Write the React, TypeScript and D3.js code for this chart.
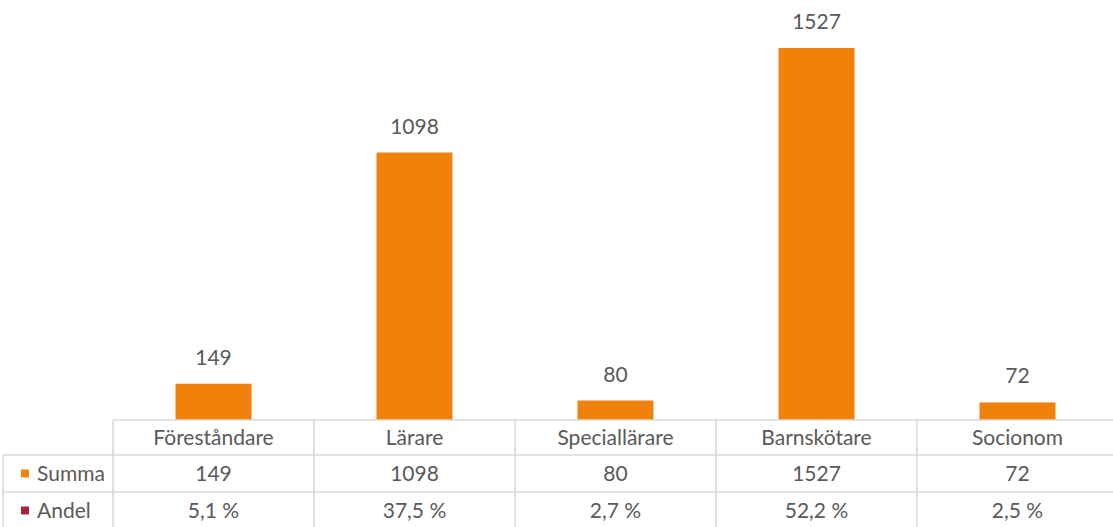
import * as d3 from 'd3';

// ── Data ────────────────────────────────────────────────────────────────────
const categories = ['Föreståndare', 'Lärare', 'Speciallärare', 'Barnskötare', 'Socionom'];
const summa = [149, 1098, 80, 1527, 72];
const andel = ['5,1 %', '37,5 %', '2,7 %', '52,2 %', '2,5 %'];
const rowNames = ['Summa', 'Andel'];

const W = 1113;
const H = 527;
const TEXT = '#595959';
const GRID = '#d9d9d9';
const ORANGE = '#f0820c';
const RED = '#a3263a';
const FONT = 'Lato, "Open Sans", sans-serif';
const FS = 21;

export default function App() {
  // plot / table geometry
  const left = 113;
  const right = 1118;
  const base = 420;
  const rows = [420, 455, 492, 529];
  const tableLeft = 3;

  const x = d3.scaleBand<string>()
    .domain(categories)
    .range([left, right])
    .paddingInner(0.622)
    .paddingOuter(0.311);

  const cols = d3.scaleBand<string>().domain(categories).range([left, right]);

  const y = d3.scaleLinear().domain([0, 1527]).range([base, 48]);

  const keyColors = [ORANGE, RED];
  const rowVals: (string | number)[][] = [summa, andel];

  return (
    <div style={{ position: 'absolute', left: 0, top: 0 }}>
      <svg width={W} height={H} style={{ display: 'block', fontFamily: FONT }}>
        <rect width={W} height={H} fill="#fff" />

        {/* bars */}
        {categories.map((c, i) => (
          <g key={c}>
            <rect
              x={x(c)}
              y={y(summa[i])}
              width={x.bandwidth()}
              height={base - y(summa[i])}
              fill={ORANGE}
            />
            <text
              x={x(c)! + x.bandwidth() / 2}
              y={y(summa[i]) - 19}
              textAnchor="middle"
              fontSize={FS}
              fill={TEXT}
            >
              {summa[i]}
            </text>
          </g>
        ))}

        {/* data table grid */}
        <g stroke={GRID} strokeWidth={1.6}>
          <line x1={left} x2={W} y1={rows[0]} y2={rows[0]} />
          {rows.slice(1).map(r => (
            <line key={r} x1={tableLeft} x2={W} y1={r} y2={r} />
          ))}
          <line x1={tableLeft} x2={tableLeft} y1={rows[1]} y2={rows[3]} />
          {categories.map(c => (
            <line key={c} x1={cols(c)} x2={cols(c)} y1={rows[0]} y2={rows[3]} />
          ))}
          <line x1={right} x2={right} y1={rows[0]} y2={rows[3]} />
        </g>

        {/* header row */}
        {categories.map(c => (
          <text
            key={c}
            x={cols(c)! + cols.bandwidth() / 2}
            y={(rows[0] + rows[1]) / 2 + 7.5}
            textAnchor="middle"
            fontSize={FS}
            fill={TEXT}
          >
            {c}
          </text>
        ))}

        {/* value rows */}
        {rowNames.map((name, r) => {
          const cy = (rows[r + 1] + rows[r + 2]) / 2;
          return (
            <g key={name}>
              <rect x={21} y={cy - 4} width={8} height={8} fill={keyColors[r]} />
              <text x={37} y={cy + 7.5} fontSize={FS} fill={TEXT}>{name}</text>
              {categories.map((c, i) => (
                <text
                  key={c}
                  x={cols(c)! + cols.bandwidth() / 2}
                  y={cy + 7.5}
                  textAnchor="middle"
                  fontSize={FS}
                  fill={TEXT}
                >
                  {rowVals[r][i]}
                </text>
              ))}
            </g>
          );
        })}
      </svg>
    </div>
  );
}
